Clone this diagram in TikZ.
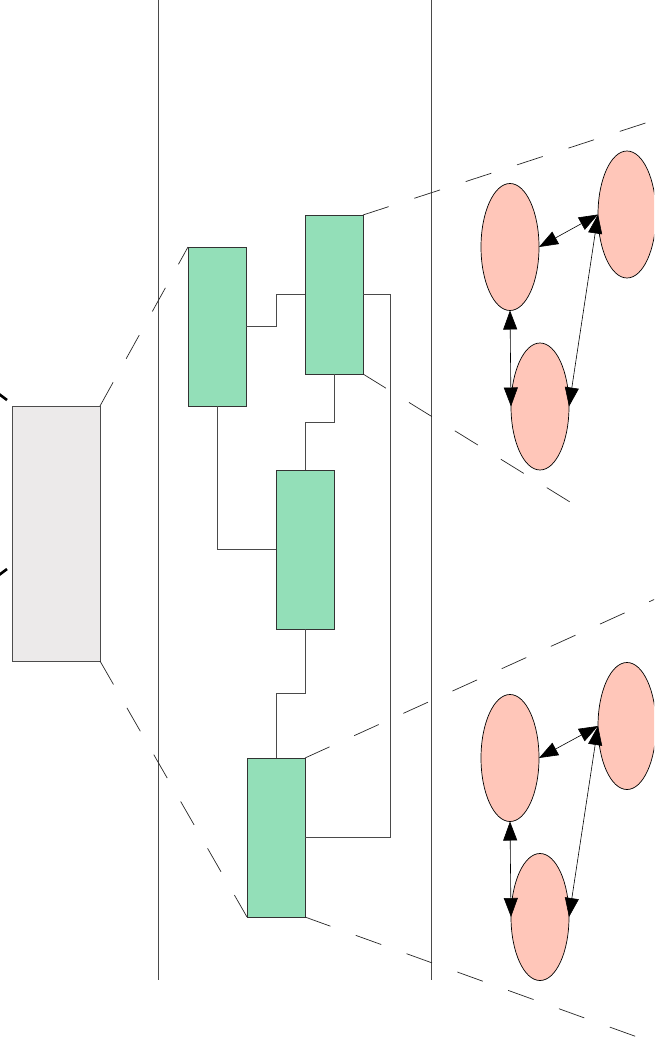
\documentclass[tikz,border=0pt]{standalone}
\usetikzlibrary{shapes.geometric,arrows.meta}
\definecolor{grayfill}{HTML}{ECEAEA}
\definecolor{greenfill}{HTML}{93DFB8}
\definecolor{pinkfill}{HTML}{FFC6B9}
\definecolor{linegray}{HTML}{4A4A4A}
\begin{document}
\begin{tikzpicture}[x=1pt,y=-1pt,
  greenbox/.style={draw=black!80, fill=greenfill, line width=0.8pt, minimum width=58pt, minimum height=159pt, inner sep=0pt, outer sep=0pt},
  graybox/.style={draw=black!70, fill=grayfill, line width=0.8pt, minimum width=88pt, minimum height=255pt, inner sep=0pt, outer sep=0pt},
  blob/.style={ellipse, draw=black, fill=pinkfill, line width=0.7pt, minimum width=58pt, minimum height=127pt, inner sep=0pt, outer sep=0pt},
  wire/.style={draw=linegray, line width=0.8pt},
  zoomline/.style={draw=black!85, line width=0.7pt, dash pattern=on 27pt off 27pt},
  dbl/.style={draw=black, line width=0.6pt, {Triangle[length=19pt,width=14pt]}-{Triangle[length=19pt,width=14pt]}},
  divider/.style={draw=linegray, line width=0.8pt},
  cutmark/.style={draw=black, line width=2.6pt}
]
\useasboundingbox (0,0) rectangle (654,1046);
\clip (0,0) rectangle (654,1046);

% dividers
\coordinate (v1t) at (158,0); \coordinate (v1b) at (158,980);
\coordinate (v2t) at (431,0); \coordinate (v2b) at (431,980);
\draw[divider] (v1t) -- (v1b);
\draw[divider] (v2t) -- (v2b);

% gray box
\node[graybox] (G) at (56,533.5) {};

% green boxes
\node[greenbox] (A) at (217,326.5) {};
\node[greenbox] (B) at (334,294.5) {};
\node[greenbox] (C) at (305,549.5) {};
\node[greenbox] (D) at (276,837.5) {};

% connectors between green boxes
\draw[wire] (A.east) -- (A.east -| C.west) |- (B.west);
\draw[wire] (B.south) -- ++(0,48) -| (C.north);
\draw[wire] (A.south) |- (C.west);
\draw[wire] (C.south) -- ++(0,64) -| (D.north);
\draw[wire] (B.east) -- ++(27,0) |- (D.east);

% zoom lines
\coordinate (z1) at (664,117);
\coordinate (z2) at (570,502);
\coordinate (z3) at (664,595);
\coordinate (z4) at (640,1038);
\draw[zoomline] (G.north east) -- (A.north west);
\draw[zoomline] (G.south east) -- (D.south west);
\draw[zoomline] (B.north east) -- (z1);
\draw[zoomline] (B.south east) -- (z2);
\draw[zoomline] (D.north east) -- (z3);
\draw[zoomline] (D.south east) -- (z4);

% left cut marks
\coordinate (c1a) at (-1,394); \coordinate (c1b) at (7,400);
\coordinate (c2a) at (-1,575); \coordinate (c2b) at (7,569);
\draw[cutmark] (c1a) -- (c1b);
\draw[cutmark] (c2a) -- (c2b);

% top ellipse group
\node[blob] (E1) at (510,247) {};
\node[blob] (E2) at (627,214.5) {};
\node[blob] (E3) at (540,406.5) {};
\draw[dbl] (E1.east) -- (E2.west);
\draw[dbl] (E1.south) -- (E3.west);
\draw[dbl] (E2.west) -- (E3.east);

% bottom ellipse group
\node[blob] (F1) at (510,758) {};
\node[blob] (F2) at (627,726) {};
\node[blob] (F3) at (540,917) {};
\draw[dbl] (F1.east) -- (F2.west);
\draw[dbl] (F1.south) -- (F3.west);
\draw[dbl] (F2.west) -- (F3.east);
\end{tikzpicture}
\end{document}
